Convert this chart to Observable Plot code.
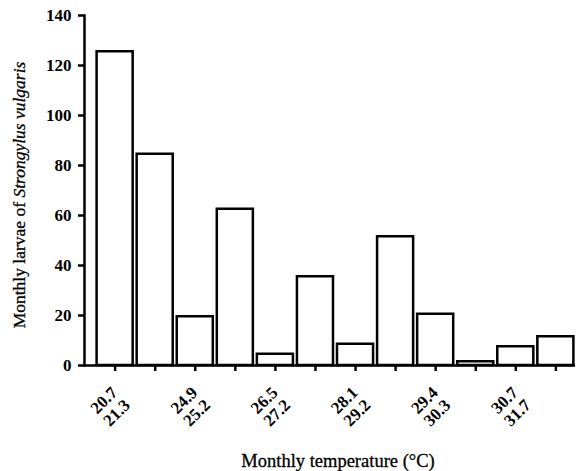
<!DOCTYPE html>
<html>
<head>
<meta charset="utf-8">
<script src="https://cdn.jsdelivr.net/npm/d3@7"></script>
<script src="https://cdn.jsdelivr.net/npm/@observablehq/plot@0.6"></script>
<style>
  body { margin: 0; background: #fff; }
  svg { font-family: "Liberation Serif", "DejaVu Serif", serif; }
</style>
</head>
<body>
<div id="chart"></div>
<script>
const categories = ["m1","m2","m3","m4","m5","m6","m7","m8","m9","m10","m11","m12"];
const larvae = [126, 85, 20, 63, 5, 36, 9, 52, 21, 2, 8, 12];
const tickLabels = ["20.7\n21.3", "", "24.9\n25.2", "", "26.5\n27.2", "", "28.1\n29.2", "", "29.4\n30.3", "", "30.7\n31.7", ""];
const yTicks = [0, 20, 40, 60, 80, 100, 120, 140];

const data = categories.map((c, i) => ({cat: c, value: larvae[i], label: tickLabels[i]}));

const chart = Plot.plot({
  width: 576,
  height: 471,
  marginTop: 15,
  marginBottom: 106,
  marginLeft: 84,
  marginRight: 1,
  style: {fontFamily: "Liberation Serif, serif", background: "#fff", color: "#000"},
  x: {domain: categories, insetLeft: 11, paddingInner: 0.1, paddingOuter: 0.04, round: false, axis: null},
  y: {domain: [0, 140], axis: null},
  marks: [
    Plot.barY(data, {x: "cat", y: "value", fill: "#fff", stroke: "#000", strokeWidth: 2.5, insetTop: 1.25}),
    Plot.frame({anchor: "left", stroke: "#000", strokeWidth: 2.5}),
    Plot.ruleY([0], {stroke: "#000", strokeWidth: 2.5}),
    Plot.axisY({ticks: yTicks, tickSize: 6, tickPadding: 7, tickFormat: d => d, fontSize: 17, fontWeight: "bold", strokeWidth: 2.5, label: null}),
    Plot.axisX({tickSize: 6, tickFormat: () => "", strokeWidth: 2.5, label: null}),
    Plot.text(data, {x: "cat", text: "label", frameAnchor: "bottom", dx: -5, dy: 41, rotate: -45, lineAnchor: "middle", textAnchor: "middle", fontSize: 17, fontWeight: "bold", lineHeight: 1.05}),
    Plot.text(["Monthly temperature (°C)"], {frameAnchor: "bottom", dx: 8, dy: 96, fontSize: 18.5, lineAnchor: "middle", fill: "#000", stroke: "#000", strokeWidth: 0.3})
  ]
});

// y-axis title with italic species name
const svg = d3.select(chart);
const t = svg.append("text")
  .attr("transform", "translate(21, 195) rotate(-90)")
  .attr("text-anchor", "middle")
  .attr("dominant-baseline", "middle")
  .attr("font-size", 17.5)
  .attr("fill", "#000")
  .attr("stroke", "#000")
  .attr("stroke-width", 0.3);
t.append("tspan").text("Monthly larvae of ");
t.append("tspan").attr("font-style", "italic").text("Strongylus vulgaris");

document.getElementById("chart").appendChild(chart);
</script>
</body>
</html>
